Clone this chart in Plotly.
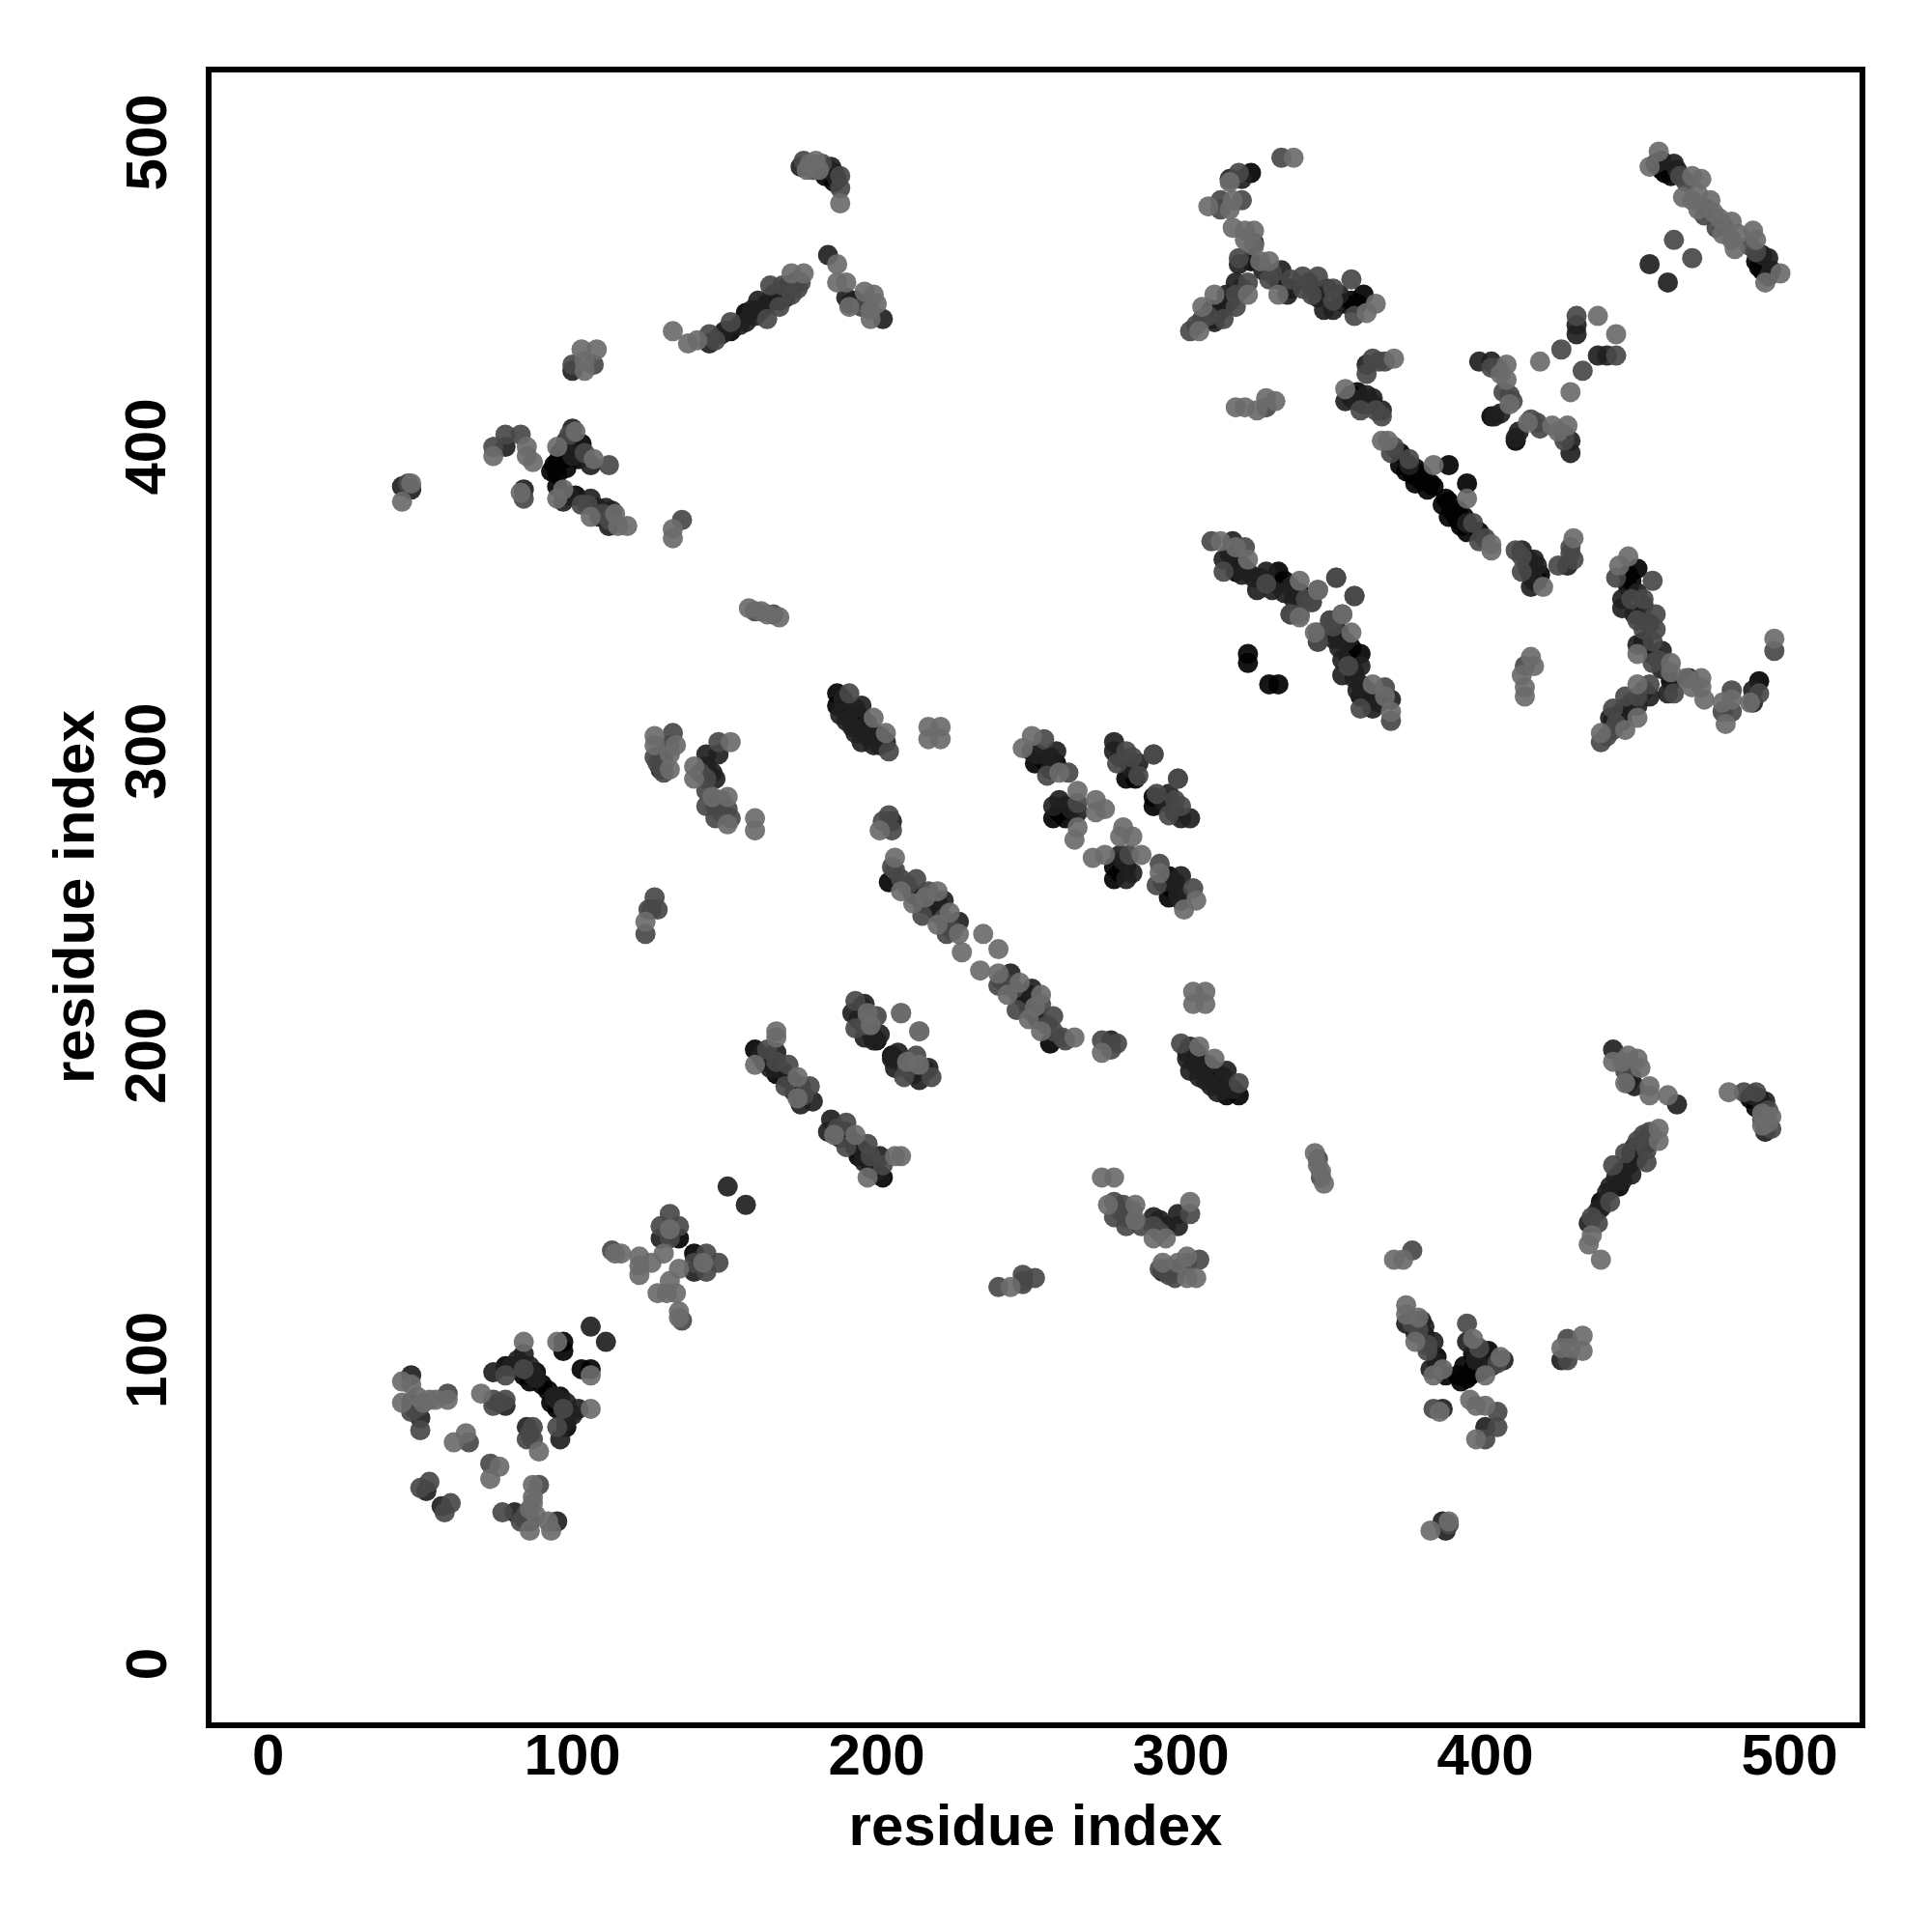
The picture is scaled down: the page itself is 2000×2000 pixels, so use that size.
import plotly.graph_objects as go

# Contact map: (residue i, residue j, contact score 1-4); the map is symmetric, so i<j is listed.
arc_top = [(175,492,3),(176,494,2),(178,493,1),(180,494,1),(182,493,2),(177,491,1),(185,492,3),(183,489,4),(186,490,4),(187,488,3),(188,489,2),(188,480,1),(179,491,2),(181,491,1),(184,491,3),(186,487,4),(188,485,2)]
arc_long = [(133,438,1),(138,434,1),(141,435,1),(145,434,3),(145,437,2),(149,437,3),(152,438,4),(152,441,2),(157,441,3),(160,443,3),(157,444,4),(161,448,3),(164,442,2),(164,447,4),(168,448,4),(165,453,2),(168,446,2),(172,450,2),(171,453,4),(169,453,2),(175,454,2),(172,457,1),(176,457,1),(147,435,2),(150,438,3),(155,440,3),(159,445,3),(162,445,3),(166,450,3),(170,449,3),(173,454,3),(174,452,2)]
arc_right = [(184,463,3),(187,460,1),(187,454,1),(190,454,1),(190,449,3),(191,446,1),(193,448,3),(199,450,1),(198,445,1),(202,442,3),(198,442,1),(191,447,3),(195,446,2),(200,447,1),(196,451,1)]
patch_d = [(103,432,1),(108,432,1),(107,427,2),(100,427,2),(100,425,3),(104,425,1),(104,428,1)]
patch_e = [(44,382,1),(44,387,3),(47,386,3),(46,388,2),(47,388,1)]
patch_f = [(74,397,1),(74,400,2),(78,400,3),(78,404,2),(83,404,2),(85,400,1),(85,397,1),(87,395,1),(84,383,2),(84,386,3),(83,385,1)]
patch_g = [(93,392,4),(95,395,4),(95,391,4),(97,396,4),(97,399,4),(95,400,1),(99,404,2),(100,406,3),(101,405,1),(103,401,4),(102,396,4),(107,396,1),(106,394,3),(112,394,2),(95,387,4),(97,386,1),(95,383,1),(97,382,3),(101,384,4),(106,383,3),(105,381,2),(106,377,1),(111,380,3),(109,377,3),(112,376,2),(112,374,3),(114,378,1),(115,374,1),(118,374,1),(94,394,4),(96,398,4),(98,393,4),(100,397,3),(104,398,2),(108,380,3),(110,378,2),(113,379,3),(98,402,3),(99,384,3),(103,381,2)]
patch_h = [(136,376,2),(133,373,1),(133,370,1)]
patch_i = [(158,347,1),(160,346,2),(162,346,1),(164,345,1),(166,345,2),(168,344,1)]
patch_top_a = [(333,495,2),(337,495,1),(316,487,1),(316,488,3),(319,490,2),(320,488,3),(323,490,4),(309,479,1),(313,481,2),(313,478,2),(317,481,1),(320,481,2),(316,478,1),(317,472,1),(321,471,1),(324,471,1),(324,467,3),(321,468,1),(324,466,1)]
hub_b = [(319,462,2),(319,460,3),(323,461,4),(326,461,1),(329,461,1),(329,455,2),(333,458,3),(332,455,4),(332,450,1),(336,455,2),(336,452,4),(340,456,2),(340,452,2),(345,456,2),(345,449,3),(350,452,2),(350,448,2),(347,445,3),(350,445,3),(356,455,2),(356,448,4),(360,450,4),(364,447,1),(361,444,1),(357,443,2),(342,454,3),(343,450,2),(348,452,3),(352,450,3),(354,447,4),(358,447,4),(335,450,3),(327,458,3),(330,457,2)]
hub_c = [(322,454,2),(322,450,1),(318,454,3),(318,450,2),(318,446,2),(315,450,3),(314,446,4),(311,450,1),(310,445,4),(310,442,4),(314,442,2),(311,441,3),(307,446,1),(307,442,2),(303,438,2),(306,438,1),(313,445,3),(316,448,3),(320,452,3),(312,444,4),(309,443,2),(305,440,2)]
patch_j = [(318,413,1),(321,413,1),(325,412,1),(328,413,2),(328,416,1),(331,415,1)]
patch_k = [(354,419,1),(354,415,3),(358,418,4),(358,415,4),(361,417,3),(359,412,2),(363,414,3),(366,412,3),(366,410,2),(361,427,3),(361,424,2),(365,428,2),(367,428,2),(370,429,1),(356,416,3),(360,414,3),(363,416,3),(356,417,4),(364,412,2),(363,429,2)]
diag_l = [(366,402,1),(368,402,1),(369,398,2),(372,398,4),(372,394,4),(375,396,2),(377,393,4),(377,388,4),(382,388,4),(379,391,4),(383,394,1),(388,394,4),(370,400,2),(374,392,4),(376,391,4),(379,389,4),(381,386,4),(383,387,4),(375,394,3)]
patch_m = [(398,428,3),(402,428,3),(402,426,2),(407,427,1),(407,422,1),(408,417,2),(408,414,1),(403,410,3),(402,410,4),(418,428,1),(425,432,2),(430,443,2),(430,440,3),(430,437,3),(437,443,1),(404,426,2),(406,418,2),(405,424,1),(409,415,2),(405,411,3)]
arc_corner = [(454,492,1),(457,497,1),(458,494,3),(458,491,4),(462,493,3),(461,489,4),(464,489,2),(468,489,1),(471,488,1),(468,481,1),(470,478,1),(473,478,2),(474,481,1),(454,460,3),(462,468,2),(456,493,3),(459,490,4),(463,491,3),(466,487,2),(465,482,1),(470,483,1),(472,476,2),(475,477,1)]
strip_n = [(310,369,2),(313,369,1),(317,369,3),(321,367,2),(318,367,1),(314,363,3),(314,359,2),(318,362,4),(318,359,4),(322,363,1),(322,359,3),(328,359,3),(328,355,2),(332,359,4),(331,355,4),(334,356,4),(334,352,3),(339,356,1),(339,352,4),(339,349,3),(345,353,2),(343,349,2),(351,357,2),(336,345,2),(339,344,1),(357,351,2),(353,345,1),(349,343,2),(345,339,2),(345,336,2),(322,332,4),(322,329,4),(316,365,3),(320,361,3),(324,357,3),(326,357,3),(336,354,3),(337,350,3),(341,350,2),(320,358,3),(325,353,3),(330,353,3)]
patch_p = [(127,305,1),(133,306,2),(127,302,1),(127,298,2),(134,302,1),(132,299,1),(130,299,3),(129,294,3),(132,294,1),(130,293,2),(130,296,3),(132,302,2),(128,296,2)]
patch_q = [(148,303,2),(152,303,1),(144,299,3),(148,299,3),(140,295,1),(144,295,3),(140,291,1),(144,291,2),(147,291,3),(144,287,2),(146,293,3),(142,293,2)]
patch_r = [(146,285,1),(151,285,1),(144,282,2),(147,282,2),(151,281,2),(147,278,2),(152,278,2),(151,276,1),(160,278,1),(160,274,1),(149,280,2),(149,284,2)]
patch_s = [(187,319,4),(191,319,2),(187,315,4),(188,312,3),(191,312,4),(195,315,3),(195,311,4),(192,308,3),(199,311,1),(195,308,4),(195,303,3),(199,306,4),(199,302,3),(203,306,1),(203,303,3),(204,300,2),(189,317,3),(193,314,3),(190,310,3),(197,309,3),(193,306,3),(197,305,3),(201,305,3),(201,302,3)]
patch_t = [(217,308,1),(221,308,1),(217,304,1),(221,304,1)]
patch_u = [(204,279,2),(205,277,3),(201,274,1),(205,274,2),(202,277,2)]
diag_v = [(206,265,1),(205,262,2),(204,257,4),(206,261,2),(208,258,2),(208,254,1),(213,258,2),(212,253,3),(217,254,2),(220,254,1),(220,250,4),(215,250,3),(212,250,1),(215,246,2),(220,247,4),(224,247,1),(220,243,1),(223,243,3),(223,240,2),(227,244,3),(227,240,1),(228,234,1),(235,240,1),(210,256,2),(214,252,3),(218,249,3),(222,245,2),(225,241,2),(216,252,1),(222,251,3)]
patch_w = [(127,252,2),(126,248,2),(125,248,2),(124,244,1),(124,240,2),(128,248,2)]
patch_y = [(248,301,1),(251,305,1),(255,304,2),(251,300,3),(252,296,4),(255,297,4),(259,300,3),(259,296,4),(256,292,2),(260,293,1),(263,293,2),(253,299,3),(257,298,3),(257,294,3)]
patch_z = [(278,303,3),(278,300,3),(279,296,2),(282,300,2),(283,296,3),(286,296,3),(286,292,2),(282,291,4),(285,291,4),(291,299,2),(299,291,2),(280,298,3),(284,294,3),(284,298,2)]
patch_ab = [(258,282,3),(258,278,4),(262,282,4),(262,278,4),(266,287,1),(266,283,2),(266,280,3),(266,275,1),(265,271,1),(272,284,1),(272,280,1),(275,281,1),(260,280,4),(264,281,3),(260,284,3)]
patch_ag = [(167,208,1),(167,206,1),(160,202,4),(164,202,2),(167,201,3),(160,197,1),(163,198,4),(167,198,2),(171,197,2),(167,194,4),(170,193,4),(174,193,1),(170,190,2),(175,190,3),(178,190,2),(174,186,1),(175,184,3),(179,185,3),(162,200,3),(165,196,3),(169,195,3),(172,192,3),(173,188,3),(176,187,2)]
patch_ai = [(193,218,2),(196,217,3),(192,214,3),(197,214,1),(200,213,2),(196,210,2),(193,209,2),(198,210,1),(201,207,3),(200,205,4),(196,206,3),(208,214,1),(214,208,1),(194,212,3),(198,208,3),(195,216,3),(199,205,3),(197,212,2)]
low_a = [(47,95,3),(44,93,1),(47,92,1),(44,86,1),(47,86,3),(47,83,2),(50,85,2),(50,81,3),(50,77,2),(53,87,1),(59,89,2),(59,87,1),(70,89,1),(74,87,2),(74,85,2),(78,87,2),(78,85,3),(61,73,1),(65,76,1),(66,73,2),(50,58,2),(53,60,2),(52,57,3),(48,84,2),(49,88,1),(51,86,1),(55,87,1),(76,86,2)]
low_b = [(74,96,3),(78,98,4),(78,95,2),(84,106,1),(84,102,3),(84,97,2),(84,95,4),(87,95,3),(86,93,4),(88,94,3),(85,96,4),(95,106,1),(97,106,4),(97,103,4),(106,111,3),(151,157,3),(86,98,3),(88,96,4),(90,92,4),(82,100,3),(80,98,3)]
low_c = [(132,148,2),(129,144,2),(135,144,2),(132,143,1),(129,140,3),(135,140,4),(132,140,2),(113,136,2),(114,135,1),(116,135,1),(122,134,1),(126,132,1),(130,135,1),(122,128,1),(122,131,1)]

clusters = [arc_top, arc_long, arc_right, patch_d, patch_e, patch_f, patch_g, patch_h, patch_i,
            patch_top_a, hub_b, hub_c, patch_j, patch_k, diag_l, patch_m, arc_corner, strip_n,
            patch_p, patch_q, patch_r, patch_s, patch_t, patch_u, diag_v, patch_w, patch_y,
            patch_z, patch_ab, patch_ag, patch_ai, low_a, low_b, low_c]

tick_values = [0, 100, 200, 300, 400, 500]
axis_label = "residue index"
score_colors = {1: "rgba(107,107,107,0.92)", 2: "rgba(72,72,72,0.92)", 3: "rgba(32,32,32,0.92)", 4: "rgba(2,2,2,0.92)"}
draw_rank = {4: 0, 3: 1, 2: 2, 1: 3}

pts = []
for cluster in clusters:
    for i, j, s in cluster:
        pts += [(i, j, s), (j, i, s)]
pts.sort(key=lambda p: draw_rank[p[2]])
xs = [p[0] for p in pts]
ys = [p[1] for p in pts]
cols = [score_colors[p[2]] for p in pts]

fig = go.Figure(go.Scatter(x=xs, y=ys, mode="markers", marker=dict(size=21, color=cols, line=dict(width=0)), hoverinfo="skip"))

font = "Liberation Sans"
W, H = 2000, 2000
left, right, top, bottom = 211, 1917, 67, 1775
common = dict(tickmode="array", tickvals=tick_values, showgrid=False, zeroline=False, ticks="",
              showline=True, mirror=True, linecolor="black", linewidth=6,
              tickfont=dict(family=font, size=60, color="black"))
fig.update_layout(
    width=W, height=H, autosize=False, showlegend=False,
    paper_bgcolor="white", plot_bgcolor="white",
    margin=dict(l=left, r=W - right, t=top, b=H - bottom, pad=0),
    xaxis=dict(range=[-18.6, 523], ticktext=["<b>%d</b>" % v for v in tick_values], ticklabelstandoff=-24,
               title=dict(text="<b>" + axis_label + "</b>", font=dict(family=font, size=60, color="black"), standoff=21), **common),
    yaxis=dict(range=[-19, 523], ticktext=["" for v in tick_values], **common),
)
for v in tick_values:
    fig.add_annotation(xref="paper", yref="y", x=0, y=v, xshift=-68, text="<b>%d</b>" % v, textangle=-90,
                       showarrow=False, xanchor="center", yanchor="middle",
                       font=dict(family=font, size=60, color="black"))
fig.add_annotation(xref="paper", yref="paper", x=0, y=0.5, xshift=-143, text="<b>" + axis_label + "</b>", textangle=-90,
                   showarrow=False, xanchor="center", yanchor="middle", font=dict(family=font, size=60, color="black"))
fig.write_html("out.html")
